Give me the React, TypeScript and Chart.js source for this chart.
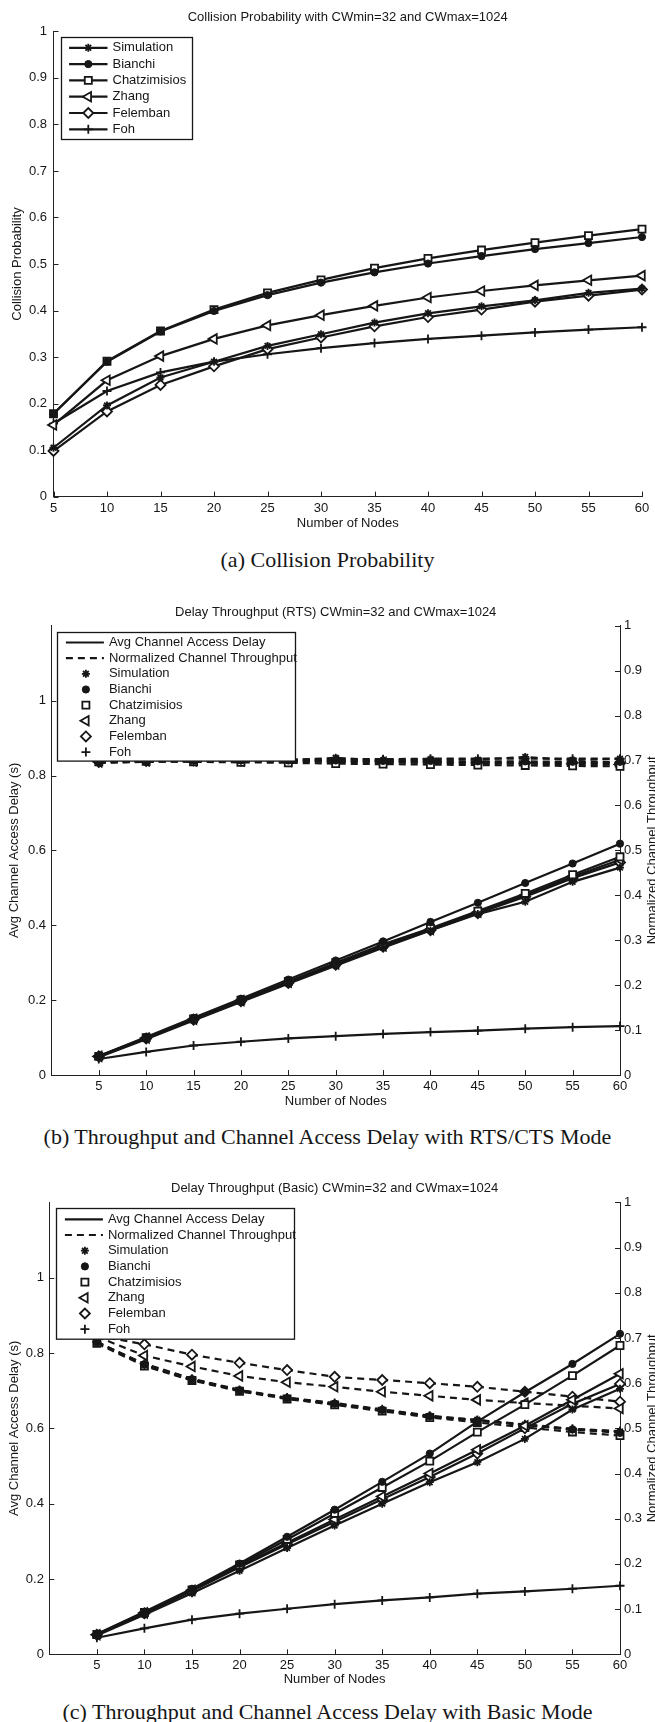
import React, { useEffect, useRef } from 'react';
import { Chart, registerables } from 'chart.js';
import { drawPoint } from 'chart.js/helpers';

Chart.register(...registerables);

const FONT = '"Liberation Sans", Arial, Helvetica, sans-serif';
const SERIF = '"Liberation Serif", "Times New Roman", Times, serif';
const INK = '#161616';
const AXIS = '#222222';

// ---------- data ----------
const NODES = [5, 10, 15, 20, 25, 30, 35, 40, 45, 50, 55, 60];
const SERIES = ['Simulation', 'Bianchi', 'Chatzimisios', 'Zhang', 'Felemban', 'Foh'];

// (a) collision probability
const colSim = [0.105, 0.196, 0.256, 0.29, 0.324, 0.349, 0.374, 0.394, 0.409, 0.422, 0.438, 0.447];
const colBianchi = [0.178, 0.29, 0.355, 0.399, 0.433, 0.46, 0.482, 0.501, 0.517, 0.532, 0.545, 0.558];
const colChatz = [0.178, 0.291, 0.356, 0.402, 0.438, 0.466, 0.491, 0.512, 0.53, 0.546, 0.561, 0.575];
const colZhang = [0.154, 0.25, 0.302, 0.339, 0.368, 0.39, 0.41, 0.428, 0.442, 0.454, 0.465, 0.475];
const colFelemban = [0.098, 0.183, 0.24, 0.28, 0.317, 0.342, 0.366, 0.386, 0.402, 0.419, 0.432, 0.445];
const colFoh = [0.157, 0.227, 0.267, 0.29, 0.306, 0.319, 0.33, 0.339, 0.346, 0.353, 0.359, 0.364];

// (b) RTS/CTS: delay (s) and normalized throughput
const rtsDelaySim = [0.048, 0.096, 0.146, 0.195, 0.244, 0.292, 0.34, 0.386, 0.43, 0.463, 0.516, 0.554];
const rtsDelayBianchi = [0.051, 0.102, 0.153, 0.204, 0.255, 0.306, 0.357, 0.409, 0.46, 0.513, 0.565, 0.618];
const rtsDelayChatz = [0.05, 0.1, 0.15, 0.2, 0.25, 0.3, 0.349, 0.392, 0.438, 0.485, 0.535, 0.583];
const rtsDelayZhang = [0.05, 0.099, 0.149, 0.199, 0.248, 0.297, 0.345, 0.389, 0.435, 0.48, 0.53, 0.575];
const rtsDelayFelemban = [0.05, 0.098, 0.148, 0.197, 0.246, 0.295, 0.343, 0.387, 0.432, 0.476, 0.526, 0.568];
const rtsDelayFoh = [0.043, 0.062, 0.079, 0.089, 0.098, 0.104, 0.11, 0.115, 0.119, 0.124, 0.128, 0.131];

const rtsThrSim = [0.695, 0.697, 0.698, 0.7, 0.701, 0.706, 0.7, 0.703, 0.702, 0.708, 0.701, 0.704];
const rtsThrBianchi = [0.697, 0.699, 0.7, 0.7, 0.7, 0.7, 0.699, 0.699, 0.698, 0.698, 0.697, 0.697];
const rtsThrChatz = [0.697, 0.698, 0.697, 0.696, 0.695, 0.693, 0.692, 0.691, 0.69, 0.689, 0.688, 0.687];
const rtsThrZhang = [0.697, 0.699, 0.699, 0.699, 0.698, 0.697, 0.696, 0.695, 0.694, 0.693, 0.692, 0.691];
const rtsThrFelemban = [0.697, 0.699, 0.7, 0.7, 0.699, 0.699, 0.698, 0.697, 0.696, 0.695, 0.695, 0.694];
const rtsThrFoh = [0.695, 0.698, 0.7, 0.701, 0.702, 0.703, 0.703, 0.704, 0.704, 0.704, 0.704, 0.704];

// (c) Basic: delay (s) and normalized throughput
const basDelaySim = [0.05, 0.105, 0.162, 0.222, 0.282, 0.342, 0.4, 0.457, 0.51, 0.572, 0.65, 0.705];
const basDelayBianchi = [0.054, 0.113, 0.174, 0.241, 0.312, 0.384, 0.458, 0.533, 0.618, 0.696, 0.771, 0.851];
const basDelayChatz = [0.053, 0.111, 0.171, 0.237, 0.305, 0.374, 0.443, 0.513, 0.59, 0.663, 0.74, 0.82];
const basDelayZhang = [0.052, 0.11, 0.17, 0.234, 0.296, 0.358, 0.419, 0.48, 0.543, 0.607, 0.676, 0.745];
const basDelayFelemban = [0.052, 0.109, 0.168, 0.231, 0.292, 0.352, 0.412, 0.471, 0.533, 0.6, 0.665, 0.718];
const basDelayFoh = [0.044, 0.069, 0.092, 0.108, 0.121, 0.133, 0.143, 0.151, 0.161, 0.167, 0.174, 0.182];

const basThrSim = [0.692, 0.64, 0.607, 0.585, 0.566, 0.553, 0.54, 0.526, 0.519, 0.508, 0.497, 0.493];
const basThrBianchi = [0.69, 0.642, 0.609, 0.584, 0.567, 0.555, 0.541, 0.527, 0.517, 0.507, 0.498, 0.49];
const basThrChatz = [0.688, 0.638, 0.606, 0.582, 0.565, 0.552, 0.538, 0.524, 0.513, 0.502, 0.492, 0.484];
const basThrZhang = [0.703, 0.661, 0.637, 0.616, 0.602, 0.592, 0.581, 0.572, 0.563, 0.556, 0.55, 0.544];
const basThrFelemban = [0.705, 0.686, 0.663, 0.645, 0.629, 0.614, 0.607, 0.6, 0.592, 0.581, 0.57, 0.559];
const basThrFoh = [0.691, 0.643, 0.61, 0.585, 0.568, 0.556, 0.542, 0.528, 0.518, 0.509, 0.499, 0.494];

const X_TITLE = 'Number of Nodes';

// ---------- markers ----------
type Mk = { style: string; r: number; bw: number; fill: string; rot?: number };
const MARKERS: Record<string, Mk> = {
  Simulation: { style: 'star', r: 4, bw: 1.8, fill: INK },
  Bianchi: { style: 'circle', r: 3.6, bw: 1, fill: INK },
  Chatzimisios: { style: 'rect', r: 5, bw: 1.8, fill: '#ffffff' },
  Zhang: { style: 'triangle', r: 5.5, bw: 1.8, fill: '#ffffff', rot: -90 },
  Felemban: { style: 'rectRot', r: 5, bw: 1.8, fill: '#ffffff' },
  Foh: { style: 'cross', r: 4.5, bw: 1.8, fill: INK },
};

function ds(name: string, values: number[], axis: string, dashed: boolean) {
  const m = MARKERS[name];
  return {
    label: name + (dashed ? ' throughput' : ''),
    data: NODES.map((n, i) => ({ x: n, y: values[i] })),
    yAxisID: axis,
    borderColor: INK,
    borderWidth: 2.2,
    borderDash: dashed ? [7, 5] : [],
    pointStyle: m.style,
    pointRotation: m.rot || 0,
    pointRadius: m.r,
    pointBorderWidth: m.bw,
    pointBackgroundColor: m.fill,
    pointBorderColor: INK,
    tension: 0,
    fill: false,
    clip: false,
  };
}

// ---------- plugins ----------
const inTicksPlugin = {
  id: 'inTicks',
  beforeDatasetsDraw(chart: any, _a: any, o: any) {
    const { ctx, chartArea: ca } = chart;
    const len = o.len || 5;
    ctx.save();
    ctx.strokeStyle = AXIS;
    ctx.lineWidth = 1;
    ctx.beginPath();
    Object.keys(chart.scales).forEach((id) => {
      const s = chart.scales[id];
      s.ticks.forEach((t: any) => {
        const p = Math.round(s.getPixelForValue(t.value)) + 0.5;
        if (s.isHorizontal()) {
          ctx.moveTo(p, ca.bottom);
          ctx.lineTo(p, ca.bottom - len);
        } else if (s.position === 'left') {
          ctx.moveTo(ca.left, p);
          ctx.lineTo(ca.left + len, p);
        } else {
          ctx.moveTo(ca.right, p);
          ctx.lineTo(ca.right - len, p);
        }
      });
    });
    ctx.stroke();
    ctx.restore();
  },
};

const legendBoxPlugin = {
  id: 'legendBox',
  afterDatasetsDraw(chart: any, _a: any, o: any) {
    const { ctx, chartArea: ca } = chart;
    const x0 = Math.round(ca.left + o.x) + 0.5;
    const y0 = Math.round(ca.top + o.y) + 0.5;
    ctx.save();
    ctx.fillStyle = '#ffffff';
    ctx.fillRect(x0, y0, o.w, o.h);
    ctx.strokeStyle = INK;
    ctx.lineWidth = 1.3;
    ctx.strokeRect(x0, y0, o.w, o.h);
    o.items.forEach((it: any, i: number) => {
      const y = y0 + o.row0 + i * o.rowH;
      if (it.line) {
        ctx.beginPath();
        ctx.setLineDash(it.line === 'dashed' ? [7, 5] : []);
        ctx.lineWidth = 2.2;
        ctx.strokeStyle = INK;
        ctx.moveTo(x0 + o.l0, y);
        ctx.lineTo(x0 + o.l1, y);
        ctx.stroke();
        ctx.setLineDash([]);
      }
      if (it.marker) {
        const m = MARKERS[it.marker];
        ctx.lineWidth = m.bw;
        ctx.fillStyle = m.fill;
        ctx.strokeStyle = INK;
        drawPoint(ctx, { pointStyle: m.style as any, rotation: m.rot || 0, radius: m.r, borderWidth: m.bw }, x0 + o.mx, y);
      }
      ctx.fillStyle = INK;
      ctx.font = `13px ${FONT}`;
      ctx.textAlign = 'left';
      ctx.textBaseline = 'middle';
      ctx.fillText(it.label, x0 + o.tx, y);
    });
    ctx.restore();
  },
};

const rightTitlePlugin = {
  id: 'rightTitle',
  afterDraw(chart: any, _a: any, o: any) {
    if (!o || !o.text) return;
    const { ctx, chartArea: ca } = chart;
    ctx.save();
    ctx.translate(o.x, (ca.top + ca.bottom) / 2);
    ctx.rotate(-Math.PI / 2);
    ctx.fillStyle = INK;
    ctx.font = `13px ${FONT}`;
    ctx.textAlign = 'center';
    ctx.textBaseline = 'middle';
    ctx.fillText(o.text, 0, 0);
    ctx.restore();
  },
};

// ---------- scale helpers ----------
const tickFont = { family: FONT, size: 13 };
const fmt = (v: any) => String(Math.round(Number(v) * 1000) / 1000);

function xScale(min: number, height: number, pad: number) {
  return {
    type: 'linear',
    position: 'bottom',
    min,
    max: 60,
    ticks: { stepSize: 5, padding: pad, font: tickFont, color: INK, maxRotation: 0, autoSkip: false, callback: fmt },
    grid: { display: false, drawTicks: false },
    border: { display: true, color: AXIS, width: 1 },
    title: { display: true, text: X_TITLE, font: tickFont, color: INK, padding: { top: 0, bottom: 0 } },
    afterBuildTicks: (s: any) => {
      s.ticks = s.ticks.filter((t: any) => t.value >= 5 - 1e-6);
    },
    afterFit: (s: any) => {
      s.height = height;
    },
  };
}

function yLeft(max: number, step: number, label: string, width: number, titlePad: number, tickPad: number, lastLabel: number) {
  return {
    type: 'linear',
    position: 'left',
    min: 0,
    max,
    ticks: { stepSize: step, padding: tickPad, font: tickFont, color: INK, callback: fmt },
    grid: { display: false, drawTicks: false },
    border: { display: true, color: AXIS, width: 1 },
    title: { display: true, text: label, font: tickFont, color: INK, padding: { top: titlePad, bottom: 0 } },
    afterBuildTicks: (s: any) => {
      s.ticks = s.ticks.filter((t: any) => t.value <= lastLabel + 1e-6);
    },
    afterFit: (s: any) => {
      s.width = width;
    },
  };
}

function yRight(width: number) {
  return {
    type: 'linear',
    position: 'right',
    min: 0,
    max: 1,
    ticks: { stepSize: 0.1, padding: 4, font: tickFont, color: INK, callback: fmt },
    grid: { display: false, drawTicks: false },
    border: { display: true, color: AXIS, width: 1 },
    afterFit: (s: any) => {
      s.width = width;
    },
  };
}

function titleOpts(text: string, top: number, bottom: number) {
  return {
    display: true,
    fullSize: false,
    text,
    font: { family: FONT, size: 13, weight: 'normal', lineHeight: 1.2 },
    color: INK,
    padding: { top, bottom },
  };
}

const LEGEND_A = SERIES.map((s) => ({ label: s, line: 'solid', marker: s }));
const LEGEND_BC = [
  { label: 'Avg Channel Access Delay', line: 'solid', marker: null },
  { label: 'Normalized Channel Throughput', line: 'dashed', marker: null },
  ...SERIES.map((s) => ({ label: s, line: null, marker: s })),
];

const baseOpts = { responsive: false, animation: false, devicePixelRatio: 1, maintainAspectRatio: false };

function configA() {
  const vals = [colSim, colBianchi, colChatz, colZhang, colFelemban, colFoh];
  return {
    type: 'line',
    data: { datasets: SERIES.map((s, i) => ds(s, vals[i], 'y', false)) },
    options: {
      ...baseOpts,
      layout: { padding: { left: 0, right: 13, top: 0, bottom: 0 } },
      plugins: {
        legend: { display: false },
        tooltip: { enabled: false },
        title: titleOpts('Collision Probability with CWmin=32 and CWmax=1024', 9.2, 6.6),
        inTicks: { len: 5 },
        legendBox: { x: 7.2, y: 6, w: 131, h: 102, row0: 10.3, rowH: 16.3, l0: 7.6, l1: 46, mx: 26.8, tx: 51, items: LEGEND_A },
      },
      scales: {
        x: xScale(5, 34.4, 4),
        y: yLeft(1, 0.1, 'Collision Probability', 53.5, 9.7, 6.5, 1),
      },
    },
    plugins: [inTicksPlugin, legendBoxPlugin],
  };
}

function configDT(title: string, delays: number[][], thr: number[][], L: any) {
  return {
    type: 'line',
    data: {
      datasets: [
        ...SERIES.map((s, i) => ds(s, delays[i], 'y', false)),
        ...SERIES.map((s, i) => ds(s, thr[i], 'y1', true)),
      ],
    },
    options: {
      ...baseOpts,
      layout: { padding: { left: 0, right: 0, top: 0, bottom: 0 } },
      plugins: {
        legend: { display: false },
        tooltip: { enabled: false },
        title: titleOpts(title, L.tTop, L.tBot),
        inTicks: { len: 5 },
        legendBox: { x: L.lx, y: L.ly, w: 238, h: L.lh, row0: L.row0, rowH: L.rowH, l0: 8.4, l1: 46.4, mx: 28.4, tx: 51.4, items: LEGEND_BC },
        rightTitle: { text: 'Normalized Channel Throughput', x: 652 },
      },
      scales: {
        x: xScale(0, L.xh, 3.5),
        y: yLeft(1.2, 0.2, 'Avg Channel Access Delay (s)', L.yw, 6.8, 5.4, 1),
        y1: yRight(35),
      },
    },
    plugins: [inTicksPlugin, legendBoxPlugin, rightTitlePlugin],
  };
}

function configB() {
  return configDT(
    'Delay Throughput (RTS) CWmin=32 and CWmax=1024',
    [rtsDelaySim, rtsDelayBianchi, rtsDelayChatz, rtsDelayZhang, rtsDelayFelemban, rtsDelayFoh],
    [rtsThrSim, rtsThrBianchi, rtsThrChatz, rtsThrZhang, rtsThrFelemban, rtsThrFoh],
    { tTop: 14.2, tBot: 5.9, xh: 33.9, yw: 51.4, lx: 5.8, ly: 6.1, lh: 128.6, row0: 10, rowH: 15.66 }
  );
}

function configC() {
  return configDT(
    'Delay Throughput (Basic) CWmin=32 and CWmax=1024',
    [basDelaySim, basDelayBianchi, basDelayChatz, basDelayZhang, basDelayFelemban, basDelayFoh],
    [basThrSim, basThrBianchi, basThrChatz, basThrZhang, basThrFelemban, basThrFoh],
    { tTop: 15.2, tBot: 6.6, xh: 32.7, yw: 49.3, lx: 6.3, ly: 5.5, lh: 130.7, row0: 10.8, rowH: 15.7 }
  );
}

function ChartCanvas({ make, top, height }: { make: () => any; top: number; height: number }) {
  const ref = useRef<HTMLCanvasElement | null>(null);
  useEffect(() => {
    if (!ref.current) return;
    const chart = new Chart(ref.current, make());
    return () => chart.destroy();
  }, []);
  return (
    <canvas
      ref={ref}
      width={655}
      height={height}
      style={{ position: 'absolute', left: 0, top, width: 655, height, display: 'block' }}
    />
  );
}

function Caption({ text, top }: { text: string; top: number }) {
  return (
    <div
      style={{
        position: 'absolute',
        top,
        left: 0,
        width: 655,
        textAlign: 'center',
        fontFamily: SERIF,
        fontSize: 22,
        lineHeight: 1,
        color: INK,
        whiteSpace: 'nowrap',
      }}
    >
      {text}
    </div>
  );
}

export default function App() {
  return (
    <div style={{ position: 'absolute', left: 0, top: 0, width: 655, height: 1722, overflow: 'hidden', background: '#fff' }}>
      <ChartCanvas make={configA} top={0} height={531} />
      <Caption text="(a) Collision Probability" top={549} />
      <ChartCanvas make={configB} top={590} height={519} />
      <Caption text="(b) Throughput and Channel Access Delay with RTS/CTS Mode" top={1126} />
      <ChartCanvas make={configC} top={1165} height={522} />
      <Caption text="(c) Throughput and Channel Access Delay with Basic Mode" top={1701} />
    </div>
  );
}
